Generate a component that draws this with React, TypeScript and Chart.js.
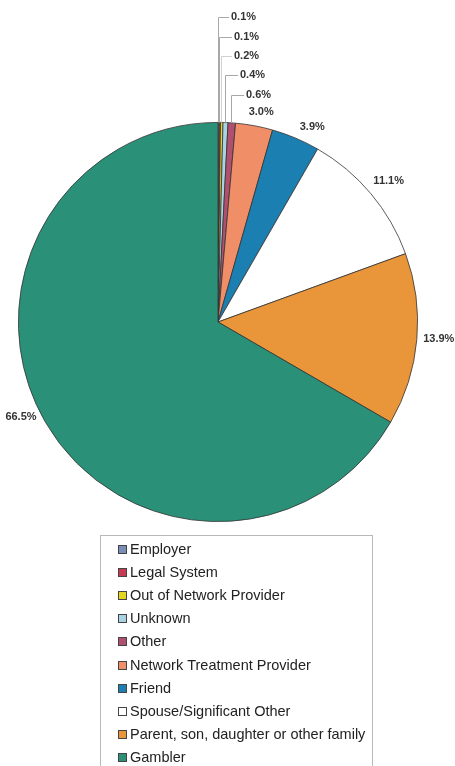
import React, { useEffect, useRef } from "react";
import { Chart, registerables } from "chart.js";

Chart.register(...registerables);

const categories = [
  "Employer",
  "Legal System",
  "Out of Network Provider",
  "Unknown",
  "Other",
  "Network Treatment Provider",
  "Friend",
  "Spouse/Significant Other",
  "Parent, son, daughter or other family",
  "Gambler",
];
const values = [0.1, 0.1, 0.2, 0.4, 0.6, 3.0, 3.9, 11.1, 13.9, 66.5];
const valueLabels = ["0.1%", "0.1%", "0.2%", "0.4%", "0.6%", "3.0%", "3.9%", "11.1%", "13.9%", "66.5%"];
const colors = [
  "#7a8fb8",
  "#c83a52",
  "#e6d51e",
  "#a9d2e2",
  "#b0506e",
  "#f08e68",
  "#1b7fb2",
  "#ffffff",
  "#e9963b",
  "#2a9078",
];

const labelPlugin = {
  id: "sliceLabels",
  afterDraw(chart: any) {
    const ctx = chart.ctx;
    const meta = chart.getDatasetMeta(0);
    ctx.save();
    ctx.font = "bold 11px 'Liberation Sans', Arial, sans-serif";
    ctx.fillStyle = "#333";
    ctx.textBaseline = "middle";
    const stackY = [17, 37, 56, 75, 95];
    const stackOffset = [12, 14, 12, 14, 14];
    const nudges: [number, number][] = [[0, 0], [0, 0], [0, 0], [0, 0], [0, 0], [3, 8], [8, 9], [1, 2], [0, -3], [-5, -16]];
    meta.data.forEach((arc: any, i: number) => {
      const { x, y, startAngle, endAngle, outerRadius } = arc.getProps(
        ["x", "y", "startAngle", "endAngle", "outerRadius"],
        true
      );
      const mid = (startAngle + endAngle) / 2;
      if (i < 5) {
        const lx = x + Math.cos(mid) * outerRadius;
        const ly = y + Math.sin(mid) * outerRadius;
        const ty = stackY[i];
        ctx.strokeStyle = i === 2 ? "#d0d0d0" : "#a8a8a8";
        ctx.lineWidth = 1;
        ctx.beginPath();
        ctx.moveTo(Math.round(lx) - 0.5, ly);
        ctx.lineTo(Math.round(lx) - 0.5, ty + 0.5);
        ctx.lineTo(Math.round(lx) + stackOffset[i] - 2, ty + 0.5);
        ctx.stroke();
        ctx.textAlign = "left";
        ctx.fillText(valueLabels[i], Math.round(lx) + stackOffset[i], ty);
      } else {
        const r = outerRadius + 22;
        const tx = x + Math.cos(mid) * r + nudges[i][0];
        const ty = y + Math.sin(mid) * r + nudges[i][1];
        ctx.textAlign = "center";
        ctx.fillText(valueLabels[i], tx, ty);
      }
    });
    // legend box
    const bx = 100.5, by = 535.5, bw = 272, bh = 240;
    ctx.strokeStyle = "#b8b8b8";
    ctx.lineWidth = 1;
    ctx.strokeRect(bx, by, bw, bh);
    ctx.font = "14.5px 'Liberation Sans', Arial, sans-serif";
    ctx.textAlign = "left";
    categories.forEach((c, i) => {
      const cy = 549 + i * 23.1;
      const top = Math.round(cy) - 4;
      ctx.fillStyle = colors[i];
      ctx.fillRect(118, top, 9, 9);
      ctx.strokeStyle = "#444";
      ctx.strokeRect(118.5, top + 0.5, 8, 8);
      ctx.fillStyle = "#222";
      ctx.fillText(c, 130, cy + 1);
    });
    ctx.restore();
  },
};

export default function App() {
  const ref = useRef<HTMLCanvasElement>(null);
  useEffect(() => {
    document.body.style.margin = "0";
    const chart = new Chart(ref.current!, {
      type: "pie",
      data: {
        labels: categories,
        datasets: [
          {
            data: values,
            backgroundColor: colors,
            borderColor: "#333",
            borderWidth: 0.8,
          },
        ],
      },
      options: {
        animation: false,
        responsive: false,
        layout: { padding: { left: 18, right: 37, top: 122, bottom: 244 } },
        plugins: { legend: { display: false }, tooltip: { enabled: false } },
      },
      plugins: [labelPlugin],
    });
    return () => chart.destroy();
  }, []);
  return (
    <div style={{ position: "absolute", left: 0, top: 0, width: 455, height: 766, background: "#fff" }}>
      <canvas ref={ref} width={455} height={766} style={{ width: 455, height: 766 }} />
    </div>
  );
}
